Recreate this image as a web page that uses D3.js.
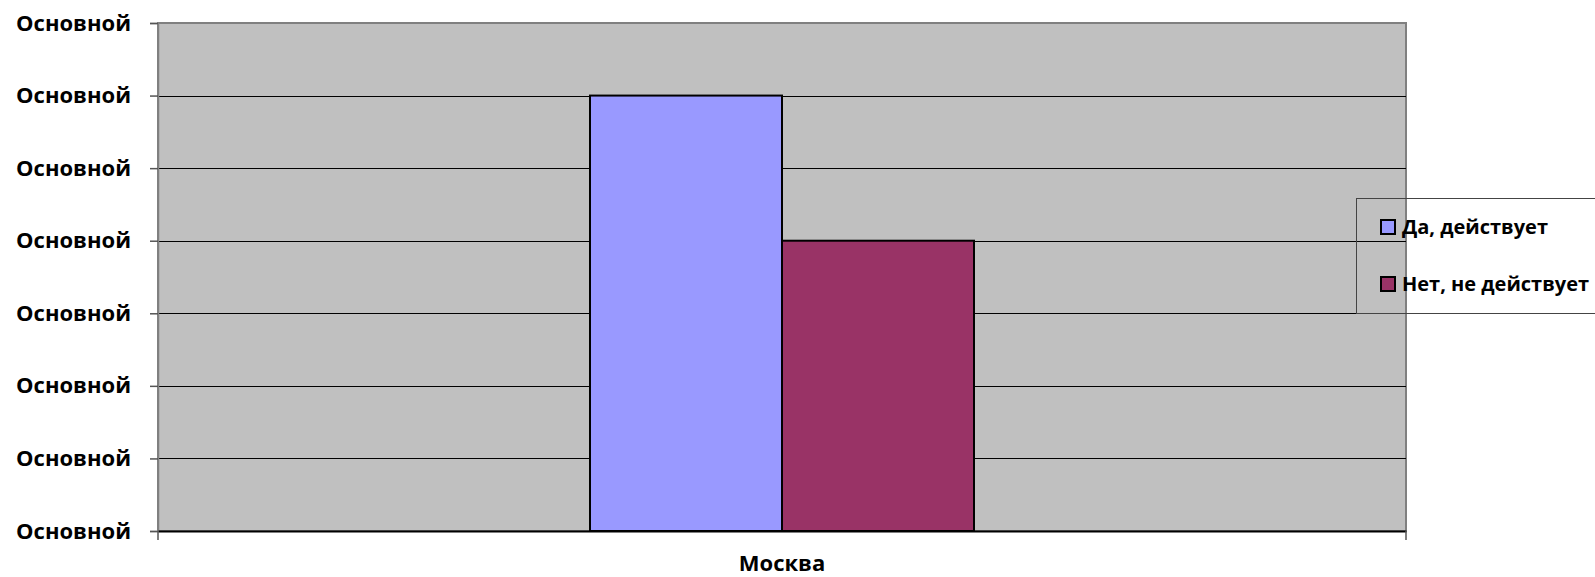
<!DOCTYPE html>
<html>
<head>
<meta charset="utf-8">
<script src="https://cdn.jsdelivr.net/npm/d3@7"></script>
<style>
  html, body { margin: 0; padding: 0; background: #ffffff; }
  svg { display: block; }
  text { font-family: "Open Sans", "Noto Sans", sans-serif; font-weight: bold; fill: #000; }
</style>
</head>
<body>
<svg id="chart" width="1595" height="577"></svg>
<script>
// Chart data
const categories = ["Москва"];
const seriesNames = ["Да, действует", "Нет, не действует"];
const seriesValues = [6, 4];
const seriesColors = ["#9999ff", "#993366"];
const yTickValues = [0, 1, 2, 3, 4, 5, 6, 7];
const yTickLabels = ["Основной", "Основной", "Основной", "Основной", "Основной", "Основной", "Основной", "Основной"];

const svg = d3.select("#chart");
const plot = { left: 158, right: 1406, top: 23, bottom: 531 };

const y = d3.scaleLinear().domain([0, 7]).range([plot.bottom, plot.top]);
const x0 = d3.scaleBand().domain(categories).range([plot.left, plot.right]).padding(0);
const x1 = d3.scaleBand().domain(seriesNames).range([0, x0.bandwidth()])
  .paddingInner(0).paddingOuter(2.25);

// Plot area background
svg.append("rect")
  .attr("x", plot.left).attr("y", plot.top)
  .attr("width", plot.right - plot.left).attr("height", plot.bottom - plot.top)
  .attr("fill", "#c0c0c0").attr("stroke", "#808080").attr("stroke-width", 2);

// Horizontal gridlines
svg.append("g").selectAll("line")
  .data(yTickValues.filter(v => v > 0 && v < 7))
  .join("line")
  .attr("x1", plot.left).attr("x2", plot.right)
  .attr("y1", d => Math.round(y(d)) + 0.5).attr("y2", d => Math.round(y(d)) + 0.5)
  .attr("stroke", "#000").attr("stroke-width", 1);

// Y axis
const yAxis = d3.axisLeft(y)
  .tickValues(yTickValues)
  .tickSize(8)
  .tickPadding(19)
  .tickFormat((d, i) => yTickLabels[i]);
const gy = svg.append("g").attr("transform", `translate(${plot.left},0)`).call(yAxis);
gy.select(".domain").attr("stroke", "#808080").attr("stroke-width", 1.5);
gy.selectAll(".tick line").attr("stroke", "#555").attr("stroke-width", 1.5);
gy.selectAll(".tick text")
  .style("font-size", "22px").style("font-family", "'Open Sans', sans-serif").style("font-weight", "bold")
  .attr("fill", "#000");

// Bars
const groups = svg.append("g").selectAll("g")
  .data(categories)
  .join("g")
  .attr("transform", d => `translate(${x0(d)},0)`);
groups.selectAll("rect")
  .data(() => seriesNames.map((name, i) => ({ name, value: seriesValues[i], color: seriesColors[i] })))
  .join("rect")
  .attr("x", d => x1(d.name))
  .attr("y", d => y(d.value))
  .attr("width", x1.bandwidth())
  .attr("height", d => y(0) - y(d.value))
  .attr("fill", d => d.color)
  .attr("stroke", "#000").attr("stroke-width", 2);

// X axis
const xAxis = d3.axisBottom(x0).tickSize(0).tickPadding(24);
const gx = svg.append("g").attr("transform", `translate(0,${plot.bottom})`).call(xAxis);
gx.select(".domain").attr("stroke", "#000").attr("stroke-width", 2);
gx.selectAll(".tick text")
  .style("font-size", "22px").style("font-family", "'Open Sans', sans-serif").style("font-weight", "bold")
  .attr("fill", "#000");
// Category boundary ticks
svg.append("g").selectAll("line")
  .data([plot.left, plot.right])
  .join("line")
  .attr("x1", d => d).attr("x2", d => d)
  .attr("y1", plot.bottom).attr("y2", plot.bottom + 9)
  .attr("stroke", "#555").attr("stroke-width", 1.5);

// Legend
const legend = svg.append("g").attr("transform", "translate(1356,198)");
legend.append("rect")
  .attr("x", 0.5).attr("y", 0.5).attr("width", 260).attr("height", 115)
  .attr("fill", "none").attr("stroke", "#444").attr("stroke-width", 1);
const items = legend.selectAll("g.item")
  .data(seriesNames)
  .join("g")
  .attr("class", "item")
  .attr("transform", (d, i) => `translate(25,${22 + i * 57})`);
items.append("rect")
  .attr("width", 14).attr("height", 14)
  .attr("fill", (d, i) => seriesColors[i])
  .attr("stroke", "#000").attr("stroke-width", 2);
items.append("text")
  .attr("x", 21).attr("y", 7).attr("dy", "0.35em")
  .style("font-size", "20px")
  .text(d => d);
</script>
</body>
</html>
